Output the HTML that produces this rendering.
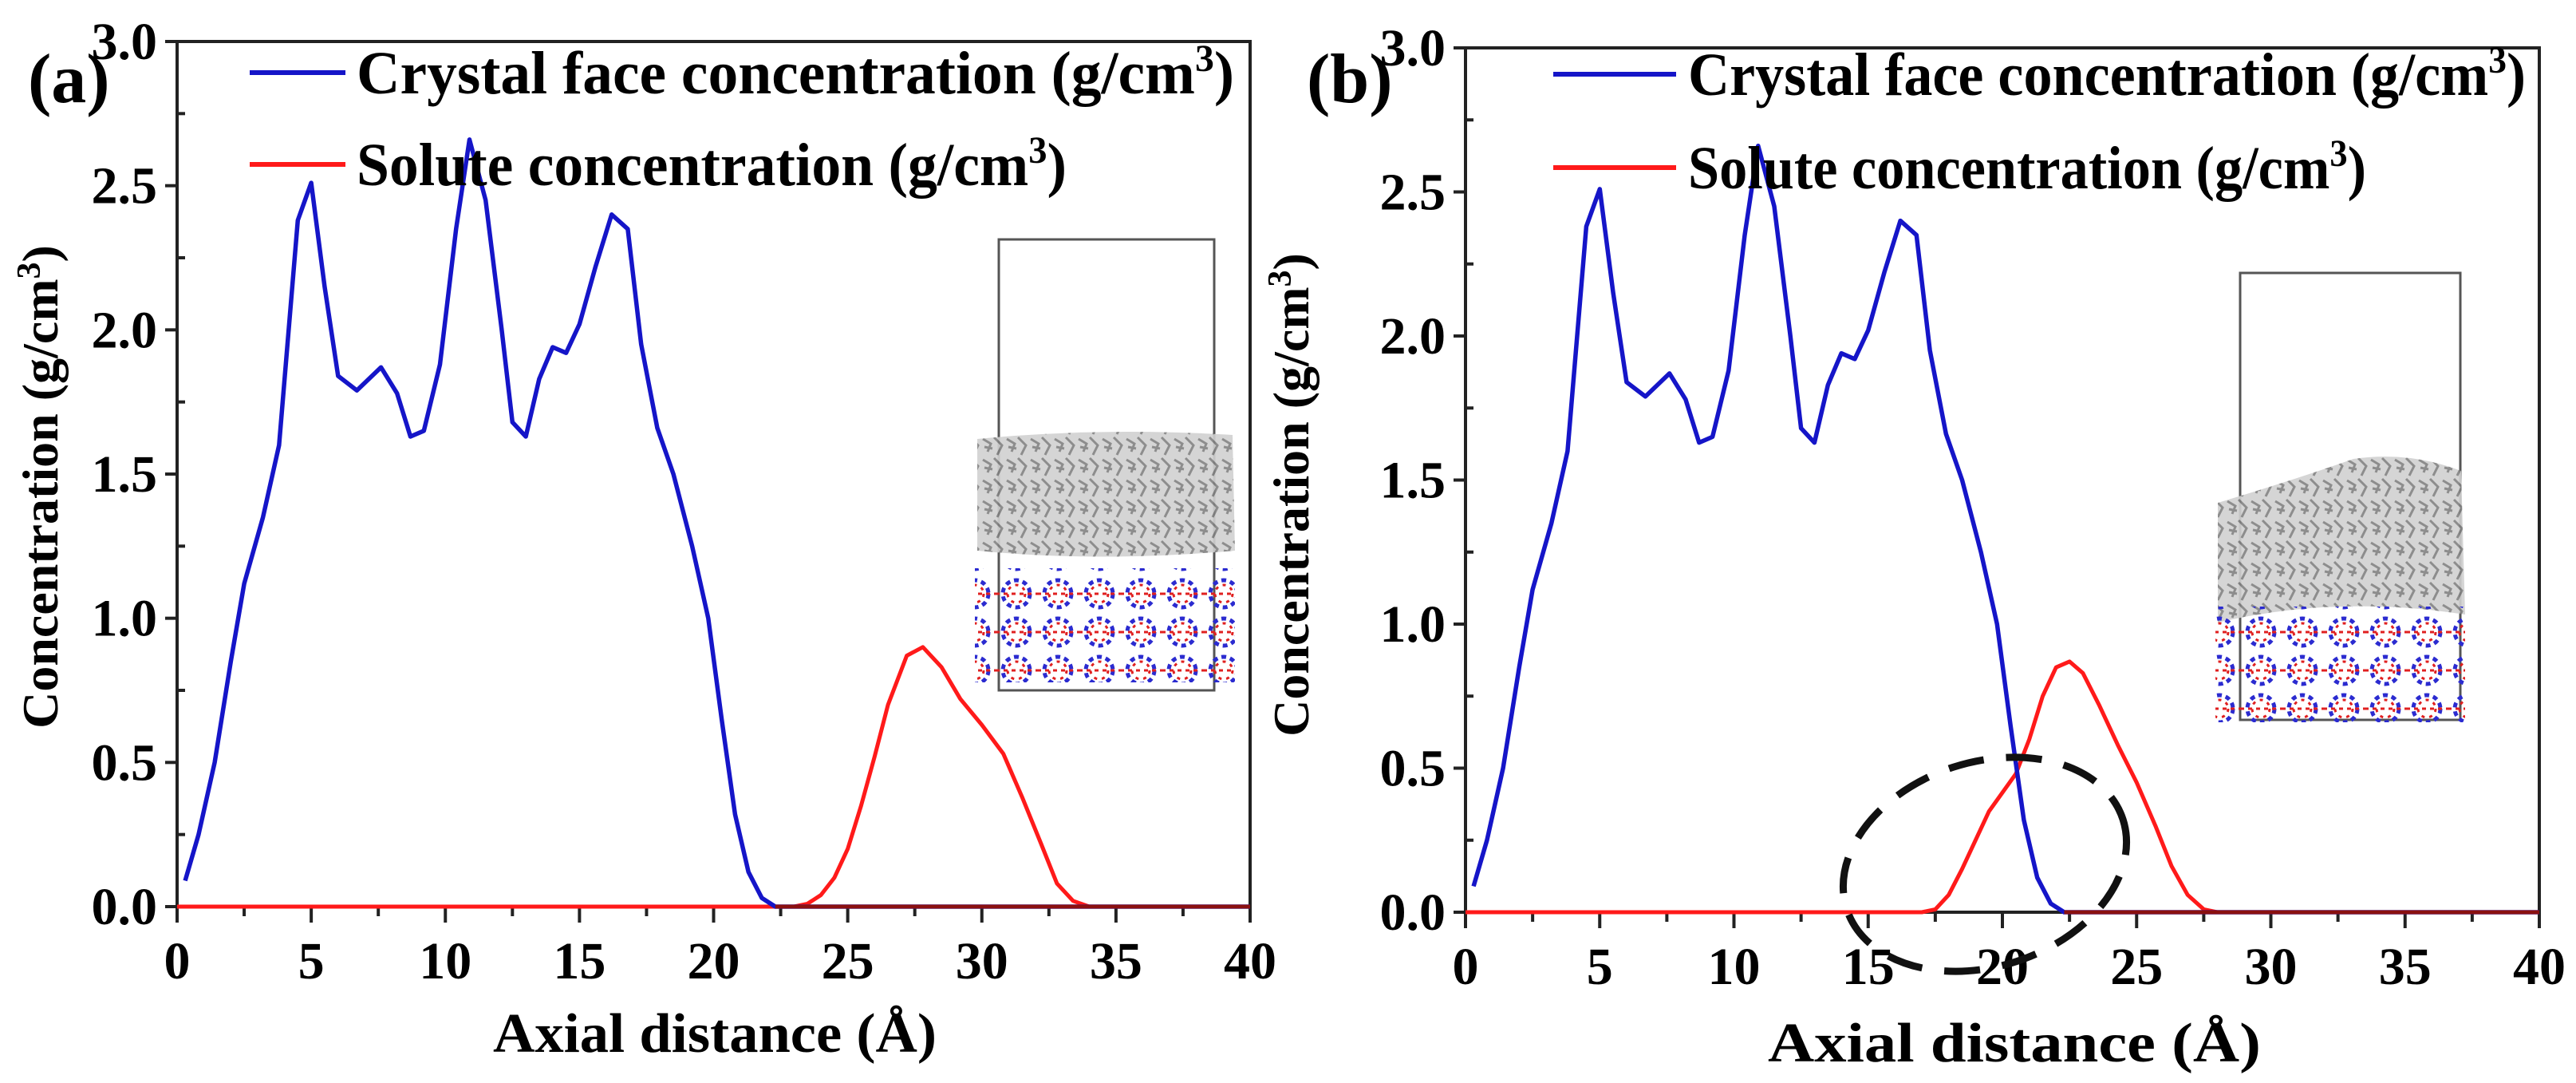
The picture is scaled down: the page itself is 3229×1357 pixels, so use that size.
<!DOCTYPE html>
<html><head><meta charset="utf-8"><style>
html,body{margin:0;padding:0;background:#fff;}
svg{display:block;}
text{font-family:"Liberation Serif",serif;font-weight:bold;fill:#000;}
</style></head><body>
<svg id="chart" width="3229" height="1357" viewBox="0 0 3229 1357" xmlns="http://www.w3.org/2000/svg">
<defs>
<pattern id="latt" width="52" height="48" patternUnits="userSpaceOnUse">
<circle cx="26" cy="24" r="17" fill="none" stroke="#2b2bd0" stroke-width="5" stroke-dasharray="6 5"/>
<circle cx="26" cy="24" r="11" fill="none" stroke="#e02020" stroke-width="3" stroke-dasharray="4 6"/>
<line x1="0" y1="24" x2="52" y2="24" stroke="#e02020" stroke-width="3" stroke-dasharray="5 5"/>
</pattern>
<pattern id="mol" width="30" height="26" patternUnits="userSpaceOnUse">
<rect width="30" height="26" fill="#d0d0d0"/>
<path d="M2 4 L12 10 L8 20 M16 2 L26 12 L20 24 M4 14 L14 16" stroke="#808080" stroke-width="3" fill="none"/>
</pattern>
</defs>
<g id="panelA"></g>
<g id="panelB"></g>
</svg>
<script>
const xTicks = [0,5,10,15,20,25,30,35,40];
const yTicks = [0.0,0.5,1.0,1.5,2.0,2.5,3.0];
const crystalX = [0.3,0.8,1.4,2,2.5,3.2,3.8,4.5,5,5.5,6,6.7,7.6,8.2,8.7,9.2,9.8,10.4,10.9,11.5,12.1,12.5,13,13.5,14,14.5,15,15.6,16.2,16.8,17.3,17.9,18.5,19.2,19.8,20.3,20.8,21.3,21.8,22.3,40];
const crystalY = [0.09,0.25,0.5,0.85,1.12,1.35,1.6,2.38,2.51,2.15,1.84,1.79,1.87,1.78,1.63,1.65,1.88,2.35,2.66,2.45,2.0,1.68,1.63,1.83,1.94,1.92,2.02,2.22,2.4,2.35,1.95,1.66,1.5,1.25,1.0,0.65,0.32,0.12,0.03,0,0];
const soluteAX = [0,23,23.5,24,24.5,25,25.5,26,26.5,27.2,27.8,28.5,29.2,30,30.8,31.5,32.2,32.8,33.4,34,40];
const soluteAY = [0,0,0.01,0.04,0.1,0.2,0.35,0.52,0.7,0.87,0.9,0.83,0.72,0.63,0.53,0.38,0.22,0.08,0.02,0,0];
const soluteBX = [0,17,17.5,18,18.5,19,19.5,20.5,21,21.5,22,22.5,23,23.6,24.3,25,25.7,26.3,26.9,27.5,28,40];
const soluteBY = [0,0,0.01,0.06,0.15,0.25,0.35,0.48,0.6,0.75,0.85,0.87,0.83,0.72,0.58,0.45,0.3,0.16,0.06,0.01,0,0];

const NS="http://www.w3.org/2000/svg";
function mk(parent,tag,attrs,txt){const e=document.createElementNS(NS,tag);for(const k in attrs)e.setAttribute(k,attrs[k]);if(txt!==undefined)e.textContent=txt;parent.appendChild(e);return e;}

function panel(g,cfg){
  const sx=v=>cfg.x0+(v-0)/40*(cfg.x1-cfg.x0);
  const sy=v=>cfg.y0-(v/3)*(cfg.y0-cfg.y1);
  const ins=cfg.inset;
  let b=mk(g,'rect',{x:ins.x,y:ins.y,width:ins.w,height:ins.h,fill:'none',stroke:'#555','stroke-width':3});
  
  let m=mk(g,'path',{d:ins.molPath,fill:'url(#mol)',opacity:0.9});
  
  let l=mk(g,'rect',{x:ins.lx,y:ins.ly,width:ins.lw,height:ins.lh,fill:'url(#latt)'});
  
  let f=mk(g,'rect',{x:cfg.x0,y:cfg.y1,width:cfg.x1-cfg.x0,height:cfg.y0-cfg.y1,fill:'none',stroke:'#222','stroke-width':4});
  
  for(let i=0;i<=16;i++){const v=i*2.5;const major=i%2===0;
    mk(g,'line',{x1:sx(v),x2:sx(v),y1:cfg.y0,y2:cfg.y0+(major?20:12),stroke:'#222','stroke-width':4});}
  xTicks.forEach(v=>{const t=mk(g,'text',{x:sx(v),y:cfg.y0+90,'font-size':66,'text-anchor':'middle'},String(v));
    });
  for(let i=0;i<=12;i++){const v=i*0.25;const major=i%2===0;
    mk(g,'line',{x1:cfg.x0-(major?15:0),x2:cfg.x0+(major?0:10),y1:sy(v),y2:sy(v),stroke:'#222','stroke-width':4});}
  yTicks.forEach(v=>{const t=mk(g,'text',{x:cfg.x0-25,y:sy(v)+22,'font-size':66,'text-anchor':'end'},v.toFixed(1));
    });
  const pts=(X,Y)=>X.map((x,i)=>sx(x).toFixed(1)+','+sy(Y[i]).toFixed(1)).join(' ');
  let r=mk(g,'polyline',{points:pts(cfg.rx,cfg.ry),fill:'none',stroke:'#ff1a1a','stroke-width':5,'stroke-linejoin':'round'});
  
  let bl=mk(g,'polyline',{points:pts(crystalX,crystalY),fill:'none',stroke:'#1515c8','stroke-width':5.5,'stroke-linejoin':'round'});
  
  mk(g,'line',{x1:sx(22.3),x2:sx(40),y1:cfg.y0,y2:cfg.y0,stroke:'#8a1010','stroke-width':5});
  const L=cfg.leg;
  mk(g,'line',{x1:L.x,x2:L.x2,y1:L.y1,y2:L.y1,stroke:'#1515c8','stroke-width':6});
  let t1=mk(g,'text',{x:L.tx,y:L.y1+26,'font-size':76,textLength:L.w1,lengthAdjust:'spacingAndGlyphs'});
  
  t1.innerHTML='Crystal face concentration (g/cm<tspan dy="-28" font-size="48">3</tspan><tspan dy="28">)</tspan>';
  mk(g,'line',{x1:L.x,x2:L.x2,y1:L.y2,y2:L.y2,stroke:'#ff1a1a','stroke-width':6});
  let t2=mk(g,'text',{x:L.tx,y:L.y2+26,'font-size':76,textLength:L.w2,lengthAdjust:'spacingAndGlyphs'});
  
  t2.innerHTML='Solute concentration (g/cm<tspan dy="-28" font-size="48">3</tspan><tspan dy="28">)</tspan>';
  let pl=mk(g,'text',{x:cfg.lab[0],y:cfg.lab[1],'font-size':88},cfg.label);
  
  let xt=mk(g,'text',{x:cfg.xtc,y:cfg.xty,'font-size':70,'text-anchor':'middle',textLength:cfg.xtw,lengthAdjust:'spacingAndGlyphs'},'Axial distance (Å)');
  
  let yt=mk(g,'text',{x:0,y:0,'font-size':64,'text-anchor':'middle',transform:`translate(${cfg.ytx},${cfg.ytc}) rotate(-90)`});
  
  yt.innerHTML='Concentration (g/cm<tspan dy="-22" font-size="42">3</tspan><tspan dy="22">)</tspan>';
}

panel(document.getElementById('panelA'),{x0:222,x1:1567,y0:1136,y1:52,rx:soluteAX,ry:soluteAY,
  leg:{x:313,x2:433,tx:447,y1:91,y2:206,w1:1100,w2:890},lab:[35,128],label:'(a)',ytx:72,ytc:610,
  xtc:896,xty:1318,xtw:556,
  inset:{x:1252,y:300,w:270,h:565,molPath:'M1225 550 Q1380 535 1545 545 L1548 690 Q1380 705 1225 690 Z',lx:1222,ly:712,lw:326,lh:143}});
panel(document.getElementById('panelB'),{x0:1837,x1:3183,y0:1143,y1:60,rx:soluteBX,ry:soluteBY,
  leg:{x:1947,x2:2101,tx:2116,y1:93,y2:210,w1:1050,w2:850},lab:[1638,128],label:'(b)',ytx:1640,ytc:620,
  xtc:2525,xty:1330,xtw:618,
  inset:{x:2808,y:342,w:276,h:560,molPath:'M2780 630 Q2880 600 2950 575 Q3020 565 3085 590 L3090 770 Q2930 745 2780 780 Z',lx:2777,ly:760,lw:313,lh:145}});

let el=mk(document.getElementById('panelB'),'ellipse',{cx:2488,cy:1083,rx:182,ry:128,fill:'none',stroke:'#111','stroke-width':9,'stroke-dasharray':'45 28',transform:'rotate(-18 2488 1083)'});


</script>
</body></html>
